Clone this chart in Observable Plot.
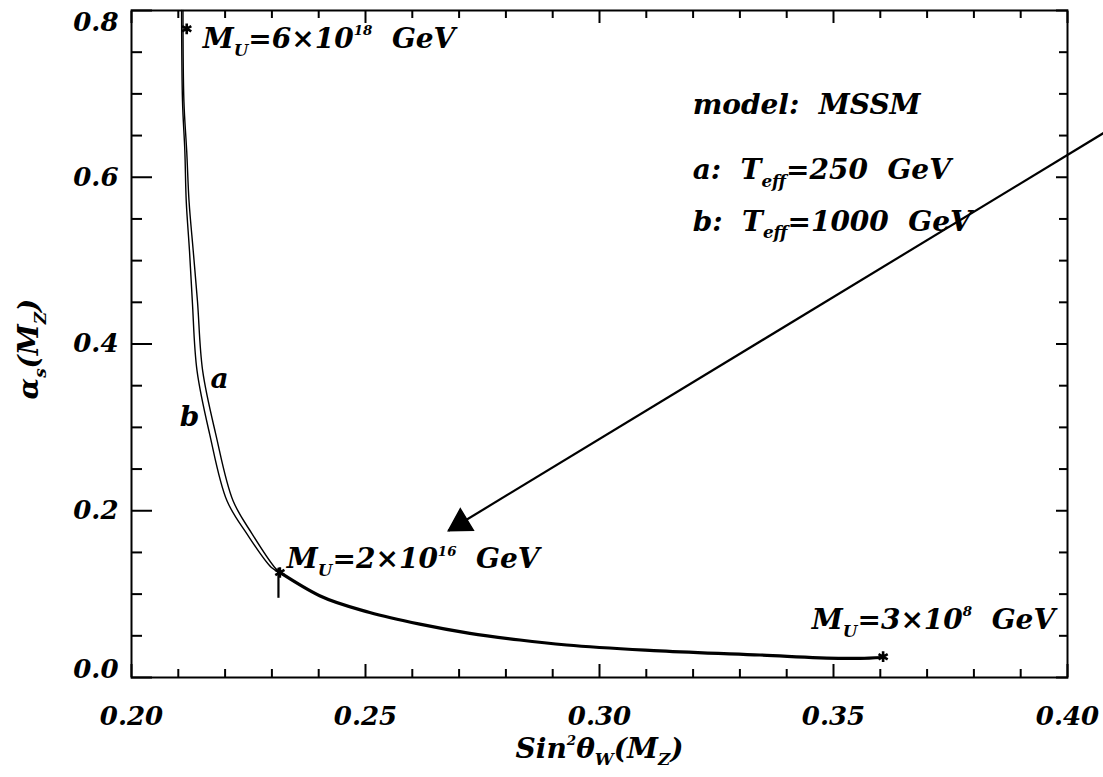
<!DOCTYPE html>
<html><head><meta charset="utf-8">
<script src="https://cdn.jsdelivr.net/npm/d3@7"></script>
<script src="https://cdn.jsdelivr.net/npm/@observablehq/plot@0.6"></script>
<style>
body{margin:0;background:#fff;}
#chart svg{display:block;}
</style></head><body><div id="chart"></div>
<script>
// ---- data ----
const curveA_x = [0.2110,0.2112,0.2118,0.2123,0.2132,0.2141,0.2152,0.2180,0.2217,0.2258,0.2306,0.2317];
const curveA_y = [0.800,0.691,0.631,0.571,0.511,0.451,0.368,0.292,0.212,0.172,0.132,0.126];
const curveB_x = [0.2107,0.2109,0.2114,0.2117,0.2124,0.2130,0.2140,0.2167,0.2204,0.2247,0.2299,0.2317];
const curveB_y = [0.800,0.691,0.631,0.571,0.511,0.451,0.368,0.292,0.212,0.172,0.132,0.126];
const tail_x = [0.2317,0.2402,0.2509,0.2616,0.2723,0.2830,0.2930,0.3129,0.3343,0.3521,0.3557,0.3604];
const tail_y = [0.126,0.098,0.078,0.064,0.053,0.045,0.039,0.032,0.027,0.023,0.023,0.024];
const markerX = [0.2118,0.2317,0.3606];
const markerY = [0.778,0.126,0.025];
const markerLabels = ["M_{U}=6×10^{18}  GeV","M_{U}=2×10^{16}  GeV","M_{U}=3×10^{8}  GeV"];
const legendLines = ["model:  MSSM","a:  T_{eff}=250  GeV","b:  T_{eff}=1000  GeV"];
const curveNames = ["a","b"];
const arrowFrom = [0.4077,0.653];
const arrowTo = [0.2677,0.176];
const sinMeasured = [0.2314];
const sinMeasuredRange = [0.095,0.131];
const xMajor = [0.20,0.25,0.30,0.35,0.40];
const xMinor = [0.21,0.22,0.23,0.24,0.26,0.27,0.28,0.29,0.31,0.32,0.33,0.34,0.36,0.37,0.38,0.39];
const yMajor = [0.0,0.2,0.4,0.6,0.8];
const yMinor = [0.05,0.10,0.15,0.25,0.30,0.35,0.45,0.50,0.55,0.65,0.70,0.75];
const xTickLabels = ["0.20","0.25","0.30","0.35","0.40"];
const yTickLabels = ["0.0","0.2","0.4","0.6","0.8"];
const xTitle = "Sin^{2}θ_{W}(M_{Z})";
const yTitle = "α_{s}(M_{Z})";

// ---- build ----
const pts = (xs, ys) => xs.map((x, i) => ({x, y: ys[i]}));
const FONT = "DejaVu Serif";
const txt = {fontFamily: FONT, fontWeight: "bold", fontStyle: "italic", fill: "black"};
const yLab = yMajor.map((v, i) => ({v, t: yTickLabels[i]}));
const xLab = xMajor.map((v, i) => ({v, t: xTickLabels[i]}));
const tickAxis = (fn, anchor, ticks, size) => fn({anchor, ticks, tickSize: size, tickFormat: () => "", label: null, strokeWidth: 2});

const plot = Plot.plot({
  width: 1103, height: 777,
  marginLeft: 131, marginRight: 36, marginTop: 10, marginBottom: 100,
  x: {domain: [0.2, 0.4]},
  y: {domain: [0, 0.8]},
  style: {background: "white"},
  marks: [
    Plot.frame({strokeWidth: 2}),
    tickAxis(Plot.axisX, "bottom", xMajor, -13),
    tickAxis(Plot.axisX, "bottom", xMinor, -8),
    tickAxis(Plot.axisX, "top", xMajor, -12),
    tickAxis(Plot.axisX, "top", xMinor, -7),
    tickAxis(Plot.axisY, "left", yMajor, -21),
    tickAxis(Plot.axisY, "left", yMinor, -11),
    tickAxis(Plot.axisY, "right", yMajor, -12),
    tickAxis(Plot.axisY, "right", yMinor, -9),
    // tick labels
    Plot.text(xLab, {x: "v", text: "t", frameAnchor: "bottom", dy: 47, lineAnchor: "bottom", textAnchor: "middle", fontSize: 26, ...txt}),
    Plot.text(yLab.filter(d => d.v > 0 && d.v < 0.8), {y: "v", text: "t", frameAnchor: "left", dx: -13, textAnchor: "end", fontSize: 26, ...txt}),
    Plot.text(yLab.filter(d => d.v === 0), {y: "v", text: "t", frameAnchor: "left", dx: -13, dy: -8, textAnchor: "end", fontSize: 26, ...txt}),
    Plot.text(yLab.filter(d => d.v === 0.8), {y: "v", text: "t", frameAnchor: "left", dx: -13, dy: 12, textAnchor: "end", fontSize: 26, ...txt}),
    // titles
    Plot.text([xTitle], {text: d => d, frameAnchor: "bottom", dy: 80, lineAnchor: "bottom", textAnchor: "middle", fontSize: 28, ...txt}),
    Plot.text([yTitle], {text: d => d, frameAnchor: "left", dx: -102, dy: 5, rotate: -90, textAnchor: "middle", fontSize: 28, ...txt}),
    // curves
    Plot.line(pts(curveA_x, curveA_y), {x: "x", y: "y", stroke: "black", strokeWidth: 1.4, curve: "catmull-rom"}),
    Plot.line(pts(curveB_x, curveB_y), {x: "x", y: "y", stroke: "black", strokeWidth: 1.4, curve: "catmull-rom"}),
    Plot.line(pts(tail_x, tail_y), {x: "x", y: "y", stroke: "black", strokeWidth: 3.2, curve: "monotone-x"}),
    Plot.ruleX(sinMeasured, {y1: sinMeasuredRange[0], y2: sinMeasuredRange[1], stroke: "black", strokeWidth: 2.2}),
    Plot.dot(pts(markerX, markerY), {x: "x", y: "y", symbol: "asterisk", r: 5, stroke: "black", strokeWidth: 2.6}),
    // marker labels
    Plot.text([0], {x: markerX[0], y: markerY[0], text: () => markerLabels[0], dx: 16, dy: 19, textAnchor: "start", lineAnchor: "bottom", fontSize: 28, ...txt}),
    Plot.text([1], {x: markerX[1], y: markerY[1], text: () => markerLabels[1], dx: 7, dy: -4, textAnchor: "start", lineAnchor: "bottom", fontSize: 28, ...txt}),
    Plot.text([2], {x: markerX[2], y: markerY[2], text: () => markerLabels[2], dx: 172, dy: -28, textAnchor: "end", lineAnchor: "bottom", fontSize: 28, ...txt}),
    // curve names
    Plot.text([curveNames[0]], {x: 0.2188, y: 0.358, text: d => d, textAnchor: "middle", fontSize: 28, ...txt}),
    Plot.text([curveNames[1]], {x: 0.2124, y: 0.313, text: d => d, textAnchor: "middle", fontSize: 28, ...txt}),
    // legend text
    Plot.text([legendLines[0]], {x: 0.3199, y: 0.676, text: d => d, textAnchor: "start", lineAnchor: "bottom", fontSize: 28, ...txt}),
    Plot.text([legendLines[1]], {x: 0.3199, y: 0.598, text: d => d, textAnchor: "start", lineAnchor: "bottom", fontSize: 28, ...txt}),
    Plot.text([legendLines[2]], {x: 0.3199, y: 0.536, text: d => d, textAnchor: "start", lineAnchor: "bottom", fontSize: 28, ...txt}),
    // arrow
    Plot.link([0], {x1: arrowFrom[0], y1: arrowFrom[1], x2: arrowTo[0], y2: arrowTo[1], stroke: "black", strokeWidth: 2.2}),
    Plot.dot([0], {x: arrowTo[0], y: arrowTo[1], symbol: "triangle", r: 9.3, dx: 12.3, dy: -7.5, rotate: 238.7, fill: "black", stroke: "black"})
  ]
});
document.getElementById("chart").appendChild(plot);

// rich text: _{sub} and ^{sup}
plot.querySelectorAll("text").forEach(t => {
  const s = t.textContent;
  if (!/[_^]\{/.test(s)) return;
  const fs = parseFloat(getComputedStyle(t).fontSize) || 28;
  while (t.firstChild) t.removeChild(t.firstChild);
  const segs = [];
  const re = /([_^])\{([^}]*)\}/g;
  let last = 0, m;
  while ((m = re.exec(s))) {
    if (m.index > last) segs.push({k: "n", s: s.slice(last, m.index)});
    segs.push({k: m[1] === "_" ? "sub" : "sup", s: m[2]});
    last = re.lastIndex;
  }
  if (last < s.length) segs.push({k: "n", s: s.slice(last)});
  let cur = 0;
  const NS = "http://www.w3.org/2000/svg";
  for (const g of segs) {
    const target = g.k === "sub" ? 0.28 * fs : g.k === "sup" ? -0.45 * fs : 0;
    const ts = document.createElementNS(NS, "tspan");
    ts.setAttribute("dy", (target - cur).toFixed(2));
    if (g.k === "sub") ts.setAttribute("font-size", (fs * 0.6).toFixed(1));
    if (g.k === "sup") ts.setAttribute("font-size", (fs * 0.48).toFixed(1));
    ts.style.whiteSpace = "pre";
    ts.textContent = g.s;
    t.appendChild(ts);
    cur = target;
  }
});
</script>
</body></html>
